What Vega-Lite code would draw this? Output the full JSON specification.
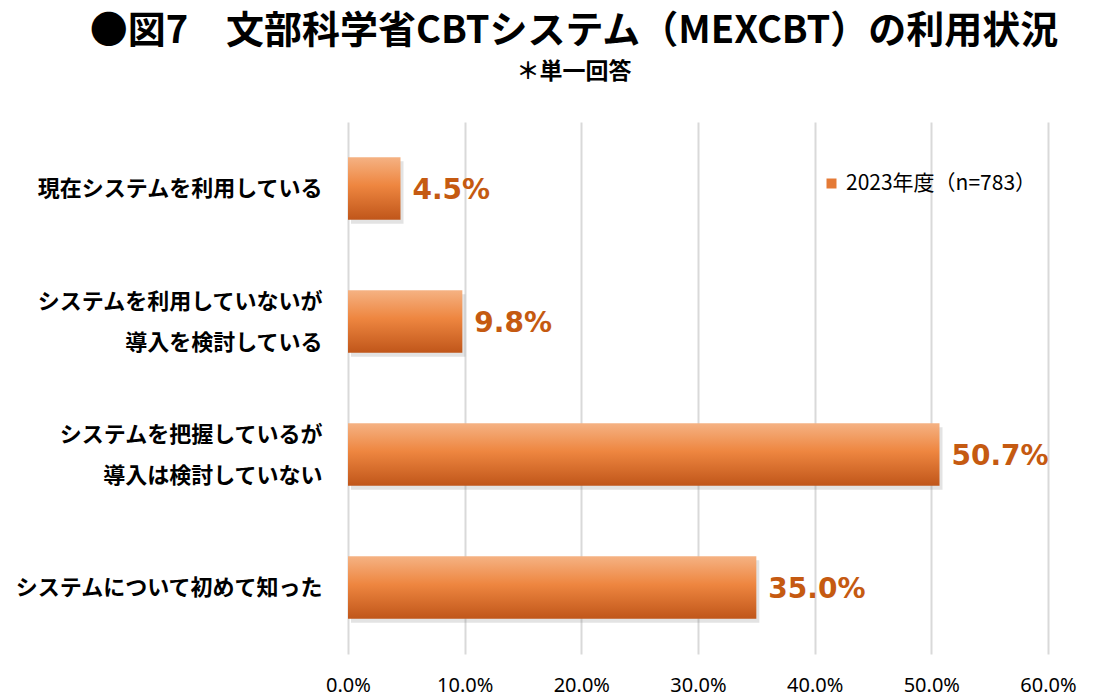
{
  "$schema": "https://vega.github.io/schema/vega-lite/v6.json",
  "autosize": "none",
  "padding": {"left": 348, "top": 122, "right": 63, "bottom": 45},
  "width": 700,
  "height": 532,
  "background": "white",
  "title": {
    "text": "●図7　文部科学省CBTシステム（MEXCBT）の利用状況",
    "subtitle": "＊単一回答",
    "anchor": "middle",
    "frame": "group",
    "dx": -124,
    "offset": 38,
    "font": "Noto Sans CJK JP",
    "fontSize": 38,
    "fontWeight": "bold",
    "color": "#000000",
    "subtitleFont": "Noto Sans CJK JP",
    "subtitleFontSize": 23,
    "subtitleFontWeight": "bold",
    "subtitleColor": "#000000",
    "subtitlePadding": 10
  },
  "config": {
    "view": {"stroke": null}
  },
  "data": {
    "values": [
      {"category": "現在システムを利用している", "value": 0.045, "series": "2023年度（n=783）"},
      {"category": "システムを利用していないが\n導入を検討している", "value": 0.098, "series": "2023年度（n=783）"},
      {"category": "システムを把握しているが\n導入は検討していない", "value": 0.507, "series": "2023年度（n=783）"},
      {"category": "システムについて初めて知った", "value": 0.35, "series": "2023年度（n=783）"}
    ]
  },
  "encoding": {
    "y": {
      "field": "category",
      "type": "nominal",
      "sort": null,
      "scale": {"paddingInner": 0.53, "paddingOuter": 0.265},
      "axis": {
        "title": null,
        "domain": false,
        "ticks": false,
        "labelPadding": 26,
        "labelFont": "Noto Sans CJK JP",
        "labelFontSize": 22,
        "labelFontWeight": "bold",
        "labelColor": "#000000",
        "labelLineHeight": 41,
        "labelExpr": "split(datum.label, '\\n')",
        "labelOffset": {"condition": {"test": "indexof(datum.value, '\\n') >= 0", "value": -20}, "value": 0},
        "labelLimit": 400
      }
    },
    "x": {
      "field": "value",
      "type": "quantitative",
      "scale": {"domain": [0, 0.6], "nice": false},
      "axis": {
        "title": null,
        "domain": false,
        "ticks": false,
        "values": [0, 0.1, 0.2, 0.3, 0.4, 0.5, 0.6],
        "format": ".1%",
        "labelFlush": false,
        "labelFont": "Noto Sans",
        "labelFontSize": 20,
        "labelColor": "#000000",
        "labelPadding": 21,
        "grid": true,
        "gridColor": "#d9d9d9",
        "gridWidth": 2
      }
    }
  },
  "layer": [
    {
      "mark": {"type": "bar", "color": "#7f7f7f", "opacity": 0.22, "xOffset": 3, "yOffset": 4},
      "encoding": {}
    },
    {
      "mark": {"type": "bar", "opacity": 0},
      "encoding": {
        "fill": {
          "field": "series",
          "type": "nominal",
          "scale": {"range": ["#e47a36"]},
          "legend": {
            "title": null,
            "orient": "none",
            "legendX": 473,
            "legendY": 51,
            "symbolType": "square",
            "symbolSize": 100,
            "symbolOpacity": 1,
            "labelFont": "Noto Sans CJK JP",
            "labelFontSize": 21,
            "labelColor": "#000000",
            "labelLimit": 400
          }
        }
      }
    },
    {
      "mark": {
        "type": "bar",
        "color": {
          "gradient": "linear",
          "x1": 0, "y1": 0, "x2": 0, "y2": 1,
          "stops": [
            {"offset": 0, "color": "#f5b283"},
            {"offset": 0.45, "color": "#ee8640"},
            {"offset": 1, "color": "#c0561a"}
          ]
        }
      },
      "encoding": {}
    },
    {
      "mark": {
        "type": "text",
        "align": "left",
        "baseline": "middle",
        "dx": 12,
        "dy": 2,
        "font": "DejaVu Sans",
        "fontSize": 28,
        "fontWeight": "bold",
        "color": "#c55a11"
      },
      "encoding": {
        "text": {"field": "value", "type": "quantitative", "format": ".1%"}
      }
    }
  ]
}
